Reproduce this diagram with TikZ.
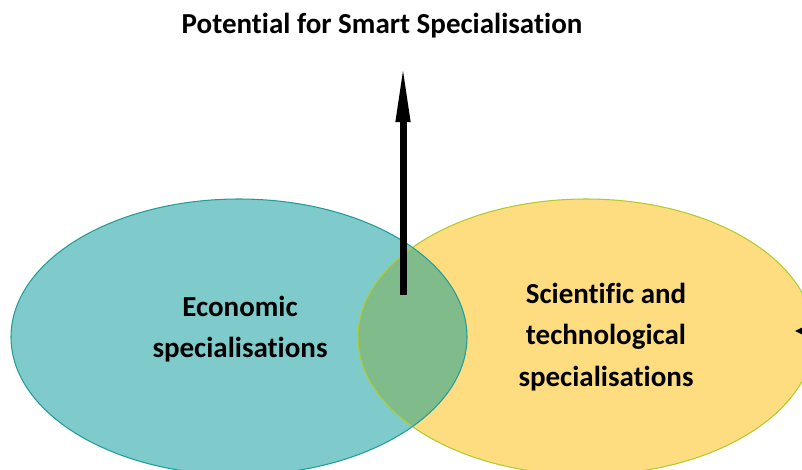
\documentclass[tikz,border=0pt]{standalone}
\usepackage{fontspec}
\setmainfont{Carlito}[Ligatures=NoCommon]
\usetikzlibrary{arrows.meta}

\definecolor{tealfill}{RGB}{127,203,203}
\definecolor{tealedge}{RGB}{32,156,156}
\definecolor{yellowfill}{RGB}{254,221,128}
\definecolor{yellowedge}{RGB}{176,204,40}
\definecolor{overlapfill}{RGB}{128,187,140}

\tikzset{
    label/.style={font=\fontsize{16.5}{23.6}\selectfont\bfseries, align=center},
    bigarrow/.style={line width=7*0.02cm, -{Triangle[length=60*0.02cm, width=13*0.02cm]}},
    sidearrow/.style={line width=1.5pt, -{Triangle[length=14*0.02cm, width=13*0.02cm]}}
}

\begin{document}
\begin{tikzpicture}[x=0.02cm, y=-0.02cm]

    \useasboundingbox (0,0) rectangle (802,470);
    \clip (0,0) rectangle (802,470);

    % Ellipses
    \fill[tealfill] (239,337) ellipse [x radius=228, y radius=138];
    \fill[yellowfill] (586,337) ellipse [x radius=228, y radius=138];
    \begin{scope}
        \clip (239,337) ellipse [x radius=228, y radius=138];
        \fill[overlapfill] (586,337) ellipse [x radius=228, y radius=138];
    \end{scope}
    \draw[yellowedge, line width=0.6pt] (586,337) ellipse [x radius=228, y radius=138];
    \draw[tealedge, line width=0.6pt] (239,337) ellipse [x radius=228, y radius=138];

    % Labels
    \node[font=\fontsize{16.5}{20}\selectfont\bfseries] (title) at (382,26) {Potential for Smart Specialisation};
    \node[label] (econ) at (240,329) {Economic\\specialisations};
    \node[label] (scitech) at (606,337) {Scientific and\\technological\\specialisations};

    % Arrows
    \coordinate (arrowbase) at (403,295);
    \coordinate (arrowtip) at (403,62);
    \draw[bigarrow] (arrowbase) -- (arrowtip);
    \coordinate (sidestart) at (840,331);
    \coordinate (sidetip) at (795,331);
    \draw[sidearrow] (sidestart) -- (sidetip);

\end{tikzpicture}
\end{document}
